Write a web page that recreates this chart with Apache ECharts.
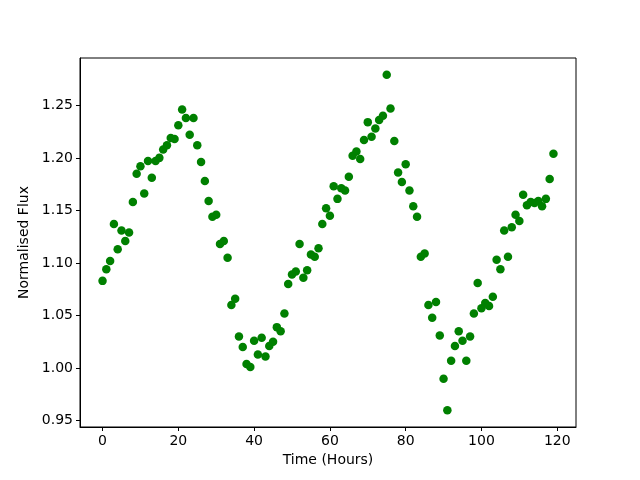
<!DOCTYPE html>
<html>
<head>
<meta charset="utf-8">
<script src="https://cdn.jsdelivr.net/npm/echarts@6/dist/echarts.min.js"></script>
<style>
  html, body { margin: 0; padding: 0; background: #fff; }
  #chart { width: 640px; height: 480px; }
</style>
</head>
<body>
<div id="chart"></div>
<script>
// hours since start, one reading per hour
var hours = [];
for (var h = 0; h < 120; h++) hours.push(h);

var flux = [
  1.083, 1.094, 1.102, 1.137, 1.113, 1.131, 1.121, 1.129, 1.158, 1.185,
  1.192, 1.166, 1.197, 1.181, 1.197, 1.200, 1.208, 1.212, 1.219, 1.218,
  1.231, 1.246, 1.238, 1.222, 1.238, 1.212, 1.196, 1.178, 1.159, 1.144,
  1.146, 1.118, 1.121, 1.105, 1.060, 1.066, 1.030, 1.020, 1.004, 1.001,
  1.026, 1.013, 1.029, 1.011, 1.021, 1.025, 1.039, 1.035, 1.052, 1.080,
  1.089, 1.092, 1.118, 1.086, 1.093, 1.108, 1.106, 1.114, 1.137, 1.152,
  1.145, 1.173, 1.161, 1.171, 1.169, 1.182, 1.202, 1.206, 1.199, 1.217,
  1.234, 1.220, 1.228, 1.236, 1.240, 1.279, 1.247, 1.216, 1.186, 1.177,
  1.194, 1.169, 1.154, 1.144, 1.106, 1.109, 1.060, 1.048, 1.063, 1.031,
  0.990, 0.960, 1.007, 1.021, 1.035, 1.026, 1.007, 1.030, 1.052, 1.081,
  1.057, 1.062, 1.059, 1.068, 1.103, 1.094, 1.131, 1.106, 1.134, 1.146,
  1.140, 1.165, 1.155, 1.158, 1.157, 1.159, 1.154, 1.161, 1.180, 1.204
];

var points = hours.map(function (t, i) { return [t, flux[i]]; });

var font = 'DejaVu Sans';
var chart = echarts.init(document.getElementById('chart'), null, {renderer: 'canvas'});

chart.setOption({
    animation: false,
    backgroundColor: '#ffffff',
    grid: {
        left: 80, right: 64, top: 58, bottom: 53,
        show: true, borderColor: '#000', borderWidth: 1, backgroundColor: 'transparent'
    },
    xAxis: {
        type: 'value',
        min: -5.95,
        max: 124.95,
        minInterval: 20,
        maxInterval: 20,
        name: 'Time (Hours)',
        nameLocation: 'middle',
        nameGap: 23,
        nameTextStyle: {color: '#000', fontFamily: font, fontSize: 14},
        axisLine: {show: true, onZero: false, lineStyle: {color: '#000', width: 1}},
        axisTick: {show: true, length: 4, lineStyle: {color: '#000'}},
        axisLabel: {
            color: '#000', fontFamily: font, fontSize: 14, margin: 7,
            showMinLabel: false, showMaxLabel: false
        },
        splitLine: {show: false}
    },
    yAxis: {
        type: 'value',
        min: 0.944,
        max: 1.295,
        minInterval: 0.05,
        maxInterval: 0.05,
        name: 'Normalised Flux',
        nameLocation: 'middle',
        nameGap: 48,
        nameTextStyle: {color: '#000', fontFamily: font, fontSize: 14},
        axisLine: {show: true, onZero: false, lineStyle: {color: '#000', width: 1}},
        axisTick: {show: true, length: 4, lineStyle: {color: '#000'}},
        axisLabel: {
            color: '#000', fontFamily: font, fontSize: 14, margin: 7,
            showMinLabel: false, showMaxLabel: false,
            formatter: function (v) { return v.toFixed(2); }
        },
        splitLine: {show: false}
    },
    series: [{
        type: 'scatter',
        data: points,
        symbol: 'circle',
        symbolSize: 8.5,
        itemStyle: {color: '#008000', opacity: 1},
        clip: false
    }]
});
</script>
</body>
</html>
